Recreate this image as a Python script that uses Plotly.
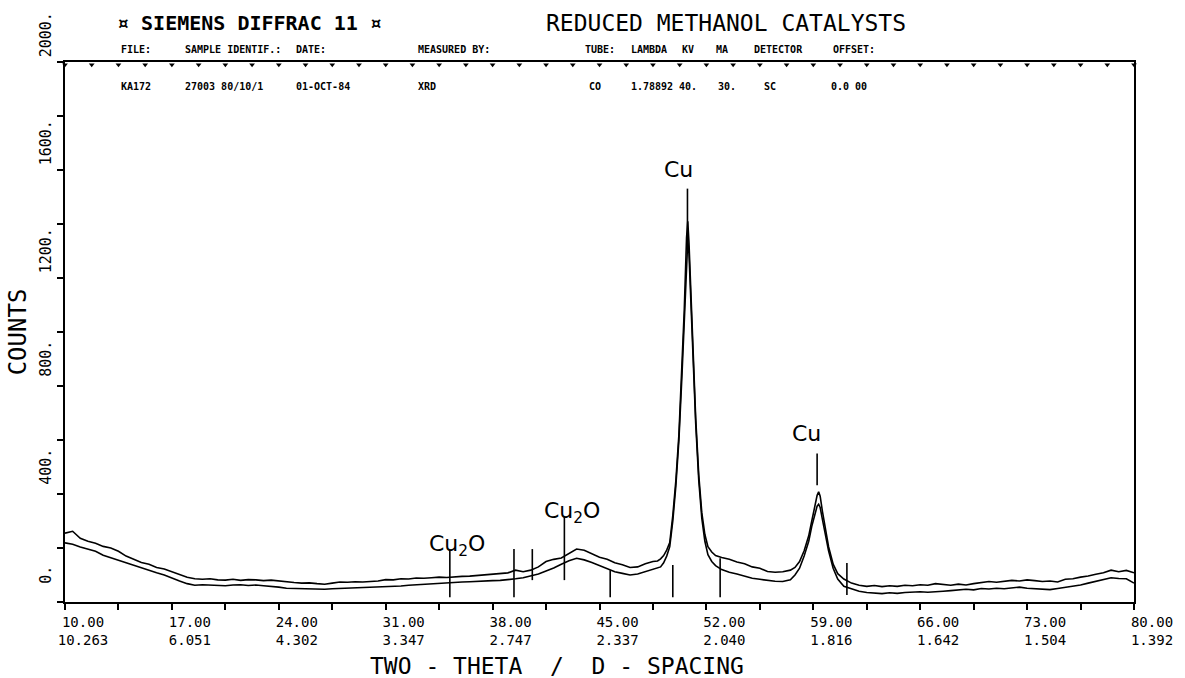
import plotly.graph_objects as go

# ---------------- data ----------------
two_theta = [
    10.0, 10.5, 11.0, 11.5, 12.0, 12.5, 13.0, 13.5, 14.0, 14.5, 15.0, 15.5, 16.0, 16.5, 17.0, 17.5,
    18.0, 18.5, 19.0, 19.5, 20.0, 20.5, 21.0, 21.5, 22.0, 22.5, 23.0, 23.5, 24.0, 24.5, 25.0, 25.5,
    26.0, 26.5, 27.0, 27.5, 28.0, 28.5, 29.0, 29.5, 30.0, 30.5, 31.0, 31.5, 32.0, 32.5, 33.0, 33.5,
    34.0, 34.5, 35.0, 35.5, 36.0, 36.5, 37.0, 37.5, 38.0, 38.5, 39.0, 39.5, 40.0, 40.5, 41.0, 41.5,
    42.0, 42.5, 43.0, 43.5, 44.0, 44.5, 45.0, 45.5, 46.0, 46.5, 47.0, 47.5, 48.0, 48.5,
    48.8, 49.0, 49.2, 49.4, 49.6, 49.8, 50.0, 50.2, 50.4, 50.55, 50.7, 50.78, 50.86, 51.0, 51.15,
    51.3, 51.5, 51.7, 51.9, 52.1, 52.35, 52.6,
    53.0, 53.5, 54.0, 54.5, 55.0, 55.5, 56.0, 56.5, 57.0, 57.5,
    57.8, 58.1, 58.4, 58.7, 58.9, 59.1, 59.25, 59.35, 59.45, 59.6, 59.8, 60.0, 60.3, 60.6,
    61.0, 61.5, 62.0, 62.5, 63.0, 63.5, 64.0, 64.5, 65.0, 65.5, 66.0, 66.5, 67.0, 67.5, 68.0, 68.5,
    69.0, 69.5, 70.0, 70.5, 71.0, 71.5, 72.0, 72.5, 73.0, 73.5, 74.0, 74.5, 75.0, 75.5, 76.0, 76.5,
    77.0, 77.5, 78.0, 78.5, 79.0, 79.5, 80.0,
]

counts_upper = [
    255, 262, 236, 225, 218, 206, 200, 188, 170, 158,
    146, 140, 128, 122, 112, 104, 92, 86, 84, 86,
    82, 81, 84, 80, 83, 82, 79, 81, 78, 73,
    72, 70, 71, 68, 66, 70, 74, 73, 75, 74,
    76, 78, 83, 82, 86, 85, 89, 88, 90, 92,
    91, 94, 95, 96, 98, 100, 102, 104, 108, 118,
    112, 118, 130, 150, 158, 163, 180, 196, 192, 178,
    166, 158, 145, 138, 128, 130, 142, 150,
    152, 160, 172, 192, 220, 320, 450, 620, 860, 1080, 1350, 1410, 1330, 1100, 893,
    680, 470, 330, 250, 205, 185, 172,
    165, 158, 148, 142, 130, 125, 113, 110, 112, 118,
    128, 150, 190, 245, 300, 360, 395, 408, 392, 335, 270, 205, 140, 105,
    85, 70, 62, 58, 61, 57, 60, 58, 62, 60,
    64, 62, 68, 64, 62, 66, 63, 68, 72, 76,
    73, 77, 80, 78, 82, 79, 76, 78, 74, 84,
    86, 92, 96, 103, 108, 118, 112, 117, 108,
]

counts_lower = [
    219, 214, 204, 196, 188, 173, 163, 155, 145, 136,
    126, 118, 108, 100, 88, 78, 68, 62, 64, 62,
    61, 60, 63, 64, 61, 63, 60, 58, 55, 51,
    50, 49, 50, 48, 47, 49, 50, 52, 53, 54,
    54, 56, 57, 58, 59, 62, 64, 66, 68, 70,
    72, 73, 74, 75, 77, 78, 79, 80, 82, 86,
    90, 96, 104, 115, 126, 140, 153, 162, 156, 146,
    134, 124, 112, 106, 100, 104, 112, 122,
    125, 130, 145, 170, 205, 300, 430, 600, 840, 1050, 1280, 1340, 1290, 1080, 870,
    660, 450, 310, 225, 175, 150, 135,
    120, 110, 104, 95, 88, 84, 80, 77, 76, 82,
    100, 125, 170, 225, 280, 330, 355, 362, 350, 305, 250, 190, 125, 85,
    58, 48, 40, 35, 33, 31, 34, 32, 35, 37,
    38, 36, 39, 40, 42, 44, 47, 45, 50, 48,
    51, 49, 53, 55, 51, 50, 48, 46, 50, 54,
    58, 63, 70, 76, 84, 90, 87, 86, 70,
]

# reference / marker sticks (2-theta, top count, bottom count)
stick_pos = [35.2, 39.4, 40.6, 42.7, 45.7, 49.8, 52.9, 61.2, 50.76, 59.25]
stick_top = [192, 196, 196, 314, 118, 137, 162, 144, 1531, 550]
stick_bottom = [18, 18, 81, 81, 18, 18, 18, 26, 1336, 432]

# phase labels
phase_text = ["Cu<sub>2</sub>O", "Cu<sub>2</sub>O", "Cu", "Cu"]
phase_x = [35.65, 43.2, 50.17, 58.53]
phase_y = [150, 272, 1548, 570]

# axis ticks
x_tick_vals = [10, 17, 24, 31, 38, 45, 52, 59, 66, 73, 80]
x_tick_text = ["10.00<br>10.263", "17.00<br>6.051", "24.00<br>4.302", "31.00<br>3.347",
               "38.00<br>2.747", "45.00<br>2.337", "52.00<br>2.040", "59.00<br>1.816",
               "66.00<br>1.642", "73.00<br>1.504", "80.00<br>1.392"]
x_minor_vals = [13.5, 20.5, 27.5, 34.5, 41.5, 48.5, 55.5, 62.5, 69.5, 76.5]
top_tick_vals = [10, 11.75, 13.5, 15.25, 17, 18.75, 20.5, 22.25, 24, 25.75, 27.5, 29.25,
                 31, 32.75, 34.5, 36.25, 38, 39.75, 41.5, 43.25, 45, 46.75, 48.5, 50.25,
                 52, 53.75, 55.5, 57.25, 59, 60.75, 62.5, 64.25, 66, 67.75, 69.5, 71.25,
                 73, 74.75, 76.5, 78.25, 80]
y_tick_vals = [0, 400, 800, 1200, 1600, 2000]
y_tick_text = ["0.", "400.", "800.", "1200.", "1600.", "2000."]
y_minor_vals = [200, 600, 1000, 1400, 1800]

# header text
header_labels = ["FILE:", "SAMPLE IDENTIF.:", "DATE:", "MEASURED BY:", "TUBE:", "LAMBDA",
                 "KV", "MA", "DETECTOR", "OFFSET:"]
header_values = ["KA172", "27003 80/10/1", "01-OCT-84", "XRD", "CO", "1.78892",
                 "40.", "30.", "SC", "0.0 00"]
header_label_px = [119, 184, 295, 418, 586, 632, 683, 718, 756, 835]
header_value_px = [119, 184, 295, 418, 590, 632, 680, 720, 766, 833]

# ---------------- figure ----------------
W, H = 1185, 678
L, R, T, B = 65, 1140, 60, 602
MONO = "DejaVu Sans Mono"
Y_MAX = 2000


def px_to_paper_x(px):
    return (px - L) / (R - L)


def py_to_paper_y(py):
    return (B - py) / (B - T)


fig = go.Figure()

fig.add_trace(go.Scatter(x=two_theta, y=counts_upper, mode="lines",
                         line=dict(color="black", width=1.6), showlegend=False,
                         hoverinfo="skip"))
fig.add_trace(go.Scatter(x=two_theta, y=counts_lower, mode="lines",
                         line=dict(color="black", width=1.6), showlegend=False,
                         hoverinfo="skip"))

sx, sy = [], []
for p, t, b in zip(stick_pos, stick_top, stick_bottom):
    sx += [p, p, None]
    sy += [b, t, None]
fig.add_trace(go.Scatter(x=sx, y=sy, mode="lines", line=dict(color="black", width=1.6),
                         showlegend=False, hoverinfo="skip"))

# small triangular tick marks hanging from the top frame
fig.add_trace(go.Scatter(x=top_tick_vals, y=[Y_MAX - 10] * len(top_tick_vals),
                         mode="markers", cliponaxis=False,
                         marker=dict(symbol="triangle-down", size=5, color="black"),
                         showlegend=False, hoverinfo="skip"))

for txt, x, y in zip(phase_text, phase_x, phase_y):
    fig.add_annotation(x=x, y=y, xref="x", yref="y", text=txt, showarrow=False,
                       xanchor="center", yanchor="bottom",
                       font=dict(family="DejaVu Sans", size=22, color="black"))

# header
fig.add_annotation(x=px_to_paper_x(251), y=py_to_paper_y(21), xref="paper", yref="paper",
                   text="<b>¤ SIEMENS DIFFRAC 11 ¤</b>", showarrow=False, xanchor="center",
                   yanchor="middle", font=dict(family=MONO, size=20, color="black"))
fig.add_annotation(x=px_to_paper_x(730), y=py_to_paper_y(21), xref="paper", yref="paper",
                   text="REDUCED METHANOL CATALYSTS", showarrow=False, xanchor="center",
                   yanchor="middle", font=dict(family=MONO, size=23, color="black"))
for txt, px in zip(header_labels, header_label_px):
    fig.add_annotation(x=px_to_paper_x(px), y=py_to_paper_y(47), xref="paper", yref="paper",
                       text="<b>" + txt + "</b>", showarrow=False, xanchor="left",
                       yanchor="middle", font=dict(family=MONO, size=10, color="black"))
for txt, px in zip(header_values, header_value_px):
    fig.add_annotation(x=px_to_paper_x(px), y=py_to_paper_y(85), xref="paper", yref="paper",
                       text="<b>" + txt + "</b>", showarrow=False, xanchor="left",
                       yanchor="middle", font=dict(family=MONO, size=10, color="black"))

# x axis title
fig.add_annotation(x=px_to_paper_x(560), y=py_to_paper_y(666), xref="paper", yref="paper",
                   text="TWO\u00a0-\u00a0THETA\u00a0\u00a0/\u00a0\u00a0D\u00a0-\u00a0SPACING",
                   showarrow=False, xanchor="center", yanchor="middle", borderpad=0,
                   font=dict(family=MONO, size=23, color="black"))

fig.update_layout(
    width=W, height=H,
    margin=dict(l=L, r=W - R, t=T, b=H - B, pad=0),
    paper_bgcolor="white", plot_bgcolor="white",
    showlegend=False,
    xaxis=dict(range=[10, 80], tickmode="array", tickvals=x_tick_vals, ticktext=x_tick_text,
               ticks="outside", ticklen=6, tickwidth=1.5, tickcolor="black",
               minor=dict(tickmode="array", tickvals=x_minor_vals, ticks="outside",
                          ticklen=6, tickwidth=1.5, tickcolor="black", showgrid=False),
               showline=True, linecolor="black", linewidth=2, mirror=True,
               showgrid=False, zeroline=False, ticklabelshift=18, ticklabelstandoff=0,
               tickfont=dict(family=MONO, size=14, color="black")),
    yaxis=dict(range=[0, Y_MAX], tickmode="array", tickvals=y_tick_vals, ticktext=y_tick_text,
               ticks="outside", ticklen=6, tickwidth=1.5, tickcolor="black", tickangle=-90,
               minor=dict(tickmode="array", tickvals=y_minor_vals, ticks="outside",
                          ticklen=6, tickwidth=1.5, tickcolor="black", showgrid=False),
               showline=True, linecolor="black", linewidth=2, mirror=True,
               showgrid=False, zeroline=False, ticklabelshift=-25,
               tickfont=dict(family=MONO, size=15, color="black"),
               title=dict(text="COUNTS", standoff=4,
                          font=dict(family=MONO, size=24, color="black"))),
)

fig.write_html("out.html", config={"displayModeBar": False},
               post_script="document.body.style.margin='0';document.body.style.overflow='hidden';")
